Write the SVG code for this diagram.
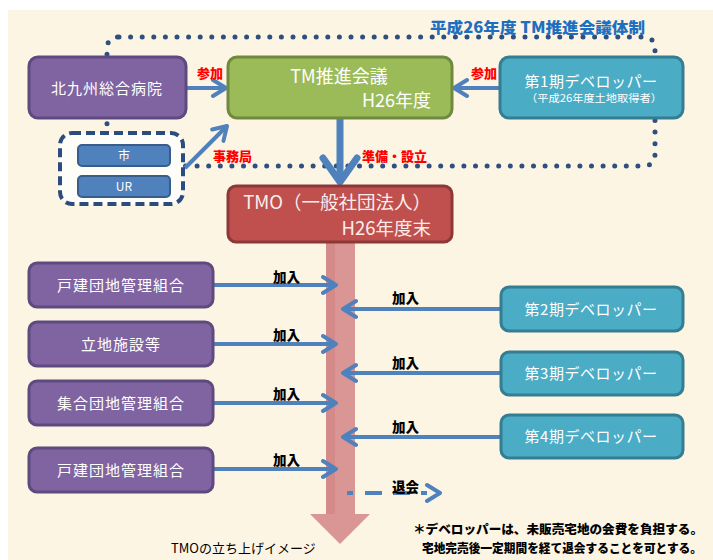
<svg xmlns="http://www.w3.org/2000/svg" width="713" height="560" viewBox="0 0 713 560">
<style>
  .t{font-family:"Noto Sans CJK JP","Noto Sans",sans-serif;}
  .w{fill:#ffffff;}
  .pur{fill:#8064A2;stroke:#5F4A80;stroke-width:3;}
  .dev{fill:#4BACC6;stroke:#357D91;stroke-width:3;}
  .blu{fill:#4F81BD;stroke:#385D8A;stroke-width:2;}
  .red{fill:#FF0000;font-weight:900;font-size:13px;}
  .blk{fill:#000000;font-weight:900;font-size:13.5px;}
  .arr{stroke:#4F81BD;stroke-width:4;fill:none;marker-end:url(#ah);}
</style>
<defs>
  <marker id="ah" markerUnits="userSpaceOnUse" markerWidth="18" markerHeight="22" viewBox="0 0 18 22" refX="15" refY="11" orient="auto">
    <path d="M2,3 L15,11 L2,19" fill="none" stroke="#4F81BD" stroke-width="4" stroke-linecap="round" stroke-linejoin="round"/>
  </marker>
</defs>
<rect x="0" y="0" width="713" height="560" fill="#ffffff"/>
<rect x="8" y="10" width="705" height="550" fill="#FDF5E4"/>

<!-- dotted loop -->
<path d="M119,37 H643 Q655,37 655,49 V154 Q655,166 643,166 H119 Q107,166 107,154 V49 Q107,37 119,37 Z" fill="none" stroke="#2F4F7F" stroke-width="5" stroke-dasharray="0 11.6" stroke-linecap="round"/>
<text class="t" x="430" y="33" font-size="15" font-weight="900" fill="#1F6FC0" textLength="215" lengthAdjust="spacingAndGlyphs">平成26年度  TM推進会議体制</text>

<!-- pink TMO arrow -->
<g id="tmo-flow">
  <rect x="326" y="240" width="29" height="276" fill="#D99694"/>
  <rect x="326" y="240" width="9" height="276" fill="#D48A88"/>
  <polygon points="310,514 370,514 340,544" fill="#D99694"/>
</g>

<g id="connectors">
  <line class="arr" x1="187" y1="88" x2="226" y2="88"/>
  <line class="arr" x1="500" y1="88" x2="454" y2="88"/>
  <line class="arr" x1="185" y1="168" x2="227" y2="126"/>
  <line x1="340" y1="119" x2="340" y2="180" stroke="#4F81BD" stroke-width="7"/>
  <path d="M323,158 L340,182 L357,158" fill="none" stroke="#4F81BD" stroke-width="7" stroke-linecap="round" stroke-linejoin="round"/>
  <line class="arr" x1="214" y1="285" x2="336" y2="285"/>
  <line class="arr" x1="214" y1="344" x2="336" y2="344"/>
  <line class="arr" x1="214" y1="403" x2="336" y2="403"/>
  <line class="arr" x1="214" y1="469" x2="336" y2="469"/>
  <line class="arr" x1="501" y1="309" x2="343" y2="309"/>
  <line class="arr" x1="501" y1="373" x2="343" y2="373"/>
  <line class="arr" x1="501" y1="437" x2="343" y2="437"/>
  <line x1="347" y1="493" x2="440" y2="493" stroke="#4F81BD" stroke-width="4" stroke-dasharray="6 12 17 11 17 11" marker-end="url(#ah)"/>
  <text class="t red" x="197" y="78">参加</text>
  <text class="t red" x="471" y="78">参加</text>
  <text class="t red" x="213" y="161">事務局</text>
  <text class="t red" x="362" y="161">準備・設立</text>
  <text class="t blk" x="273" y="282">加入</text>
  <text class="t blk" x="273" y="340">加入</text>
  <text class="t blk" x="273" y="399">加入</text>
  <text class="t blk" x="273" y="465">加入</text>
  <text class="t blk" x="392" y="303">加入</text>
  <text class="t blk" x="392" y="368">加入</text>
  <text class="t blk" x="392" y="432">加入</text>
  <text class="t blk" x="392" y="492">退会</text>
</g>

<g id="kitakyushu">
  <rect class="pur" x="29" y="57" width="157" height="61" rx="9"/>
  <text class="t w" x="107" y="94" font-size="15" letter-spacing="1" text-anchor="middle">北九州総合病院</text>
</g>
<g id="tm-council">
  <rect x="228" y="57" width="224" height="61" rx="9" fill="#9BBB59" stroke="#71893F" stroke-width="3"/>
  <text class="t w" x="339" y="83" font-size="18" text-anchor="middle">TM推進会議</text>
  <text class="t w" x="431" y="107" font-size="18" text-anchor="end">H26年度</text>
</g>
<g id="dev1">
  <rect class="dev" x="500" y="57" width="183" height="61" rx="9"/>
  <text class="t w" x="591" y="87" font-size="15" letter-spacing="0.5" text-anchor="middle">第1期デベロッパー</text>
  <text class="t w" x="594" y="102" font-size="10.5" text-anchor="middle" textLength="136" lengthAdjust="spacingAndGlyphs">（平成26年度土地取得者）</text>
</g>
<g id="city-ur">
  <rect x="60" y="133" width="123" height="71" rx="12" fill="#FFFDF8" stroke="#2B4C7E" stroke-width="4" stroke-dasharray="9 5"/>
  <g id="city">
    <rect class="blu" x="78" y="145" width="92" height="21" rx="4"/>
    <text class="t w" x="124" y="160" font-size="12" text-anchor="middle">市</text>
  </g>
  <g id="ur">
    <rect class="blu" x="78" y="176" width="92" height="21" rx="4"/>
    <text class="t w" x="124" y="191" font-size="12" text-anchor="middle">UR</text>
  </g>
</g>
<g id="tmo">
  <rect x="228" y="186" width="224" height="56" rx="8" fill="#C0504D" stroke="#8C3836" stroke-width="3"/>
  <text class="t" x="431" y="209" font-size="18.5" fill="#FBEDEC" text-anchor="end">TMO（一般社団法人）</text>
  <text class="t" x="431" y="235" font-size="18.5" fill="#FBEDEC" text-anchor="end">H26年度末</text>
</g>

<g id="union1">
  <rect class="pur" x="29" y="263" width="184" height="44" rx="8"/>
  <text class="t w" x="121" y="291" font-size="15" letter-spacing="1" text-anchor="middle">戸建団地管理組合</text>
</g>
<g id="facilities">
  <rect class="pur" x="29" y="322" width="184" height="44" rx="8"/>
  <text class="t w" x="121" y="350" font-size="15" letter-spacing="1" text-anchor="middle">立地施設等</text>
</g>
<g id="union2">
  <rect class="pur" x="29" y="381" width="184" height="44" rx="8"/>
  <text class="t w" x="121" y="409" font-size="15" letter-spacing="1" text-anchor="middle">集合団地管理組合</text>
</g>
<g id="union3">
  <rect class="pur" x="29" y="448" width="184" height="44" rx="8"/>
  <text class="t w" x="121" y="476" font-size="15" letter-spacing="1" text-anchor="middle">戸建団地管理組合</text>
</g>

<g id="dev2">
  <rect class="dev" x="501" y="287" width="182" height="44" rx="8"/>
  <text class="t w" x="591" y="315" font-size="15" letter-spacing="0.5" text-anchor="middle">第2期デベロッパー</text>
</g>
<g id="dev3">
  <rect class="dev" x="501" y="352" width="182" height="43" rx="8"/>
  <text class="t w" x="591" y="379" font-size="15" letter-spacing="0.5" text-anchor="middle">第3期デベロッパー</text>
</g>
<g id="dev4">
  <rect class="dev" x="501" y="415" width="182" height="43" rx="8"/>
  <text class="t w" x="591" y="442" font-size="15" letter-spacing="0.5" text-anchor="middle">第4期デベロッパー</text>
</g>

<text class="t" x="171" y="553" font-size="13" fill="#000000">TMOの立ち上げイメージ</text>
<text class="t" x="413" y="534" font-size="12.5" font-weight="900" fill="#000000" textLength="290" lengthAdjust="spacingAndGlyphs">＊デベロッパーは、未販売宅地の会費を負担する。</text>
<text class="t" x="422" y="553" font-size="12" font-weight="900" fill="#000000" textLength="280" lengthAdjust="spacingAndGlyphs">宅地完売後一定期間を経て退会することを可とする。</text>
</svg>
